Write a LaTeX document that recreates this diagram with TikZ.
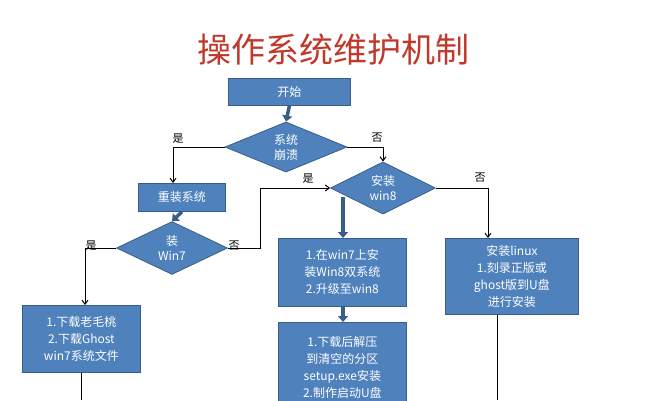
\documentclass[tikz,border=0pt]{standalone}
\usepackage{fontspec}
\setmainfont{Noto Sans CJK SC}
\usetikzlibrary{shapes.geometric,arrows.meta}
\definecolor{boxfill}{HTML}{4F81BD}
\definecolor{boxline}{HTML}{385D8A}
\definecolor{thin}{HTML}{8EA9C8}
\definecolor{titlered}{HTML}{C0392B}
\begin{document}
\begin{tikzpicture}[x=1pt,y=-1pt,
  boxst/.style={draw=boxline,fill=boxfill,line width=0.8pt,text=white,font=\fontsize{12}{17}\selectfont,align=center,inner sep=0pt,anchor=north west},
  dia/.style={diamond,draw=boxline,fill=boxfill,line width=0.8pt,text=white,font=\fontsize{12}{15}\selectfont,align=center,inner sep=0pt},
  thickar/.style={boxline,line width=3.5pt,-{Triangle[length=6pt,width=10pt]}},
  thinar/.style={thin,line width=1pt,-{Straight Barb[length=4pt,width=6pt]}},
  lab/.style={font=\fontsize{11}{11}\selectfont,text=black}]
\useasboundingbox[fill=white] (0,0) rectangle (667,400);
\node[text=titlered,font=\fontsize{34}{34}\selectfont] (title) at (333,50) {操作系统维护机制};
\node[boxst,minimum width=122pt,minimum height=27pt] (start) at (228,78) {开始};
\node[dia,minimum width=122pt,minimum height=40pt] (d1) at (286,147) {系统\\崩溃};
\node[dia,minimum width=105pt,minimum height=43pt] (d2) at (383,188) {安装\\win8};
\node[boxst,minimum width=87pt,minimum height=28pt] (re) at (138,183) {重装系统};
\node[dia,minimum width=111pt,minimum height=42pt] (d3) at (172,248) {装\\Win7};
\node[boxst,minimum width=118pt,minimum height=67pt] (lb) at (22,305) {1.下载老毛桃\\2.下载Ghost\\win7系统文件};
\node[boxst,minimum width=128pt,minimum height=68pt] (b1) at (278,238) {1.在win7上安\\装Win8双系统\\2.升级至win8};
\node[boxst,minimum width=128pt,minimum height=90pt,anchor=north west] (b2) at (278,322) {1.下载后解压\\到清空的分区\\setup.exe安装\\2.制作启动U盘};
\node[boxst,minimum width=133pt,minimum height=76pt] (lx) at (445,238) {安装linux\\1.刻录正版或\\ghost版到U盘\\进行安装};
\coordinate (e1) at (81,400);
\coordinate (e2) at (497,400);
\draw[thickar] (start.south) -- (d1.north);
\draw[thickar] (re.south) -- (d3.north);
\draw[thickar] (343,197) -- (b1.north -| 343,0);
\draw[thickar] (b1.south -| 343,0) -- (b2.north -| 343,0);
\draw[thinar] (d1.west) -| (re.north -| 173,0);
\draw[thinar] (d1.east) -| (d2.north);
\draw[thinar] (d3.west) -| (lb.north -| 85,0);
\draw[thinar] (d3.east) -- (260,248) |- (d2.west);
\draw[thinar] (d2.east) -| (lx.north -| 488,0);
\draw[thin,line width=1pt] (lb.south -| e1) -- (e1);
\draw[thin,line width=1pt] (lx.south -| e2) -- (e2);
\node[lab] (l1) at (178,139) {是};
\node[lab] (l2) at (377,138) {否};
\node[lab] (l3) at (308,179) {是};
\node[lab] (l4) at (480,178) {否};
\node[lab] (l5) at (91,246) {是};
\node[lab] (l6) at (234,246) {否};
\end{tikzpicture}
\end{document}
